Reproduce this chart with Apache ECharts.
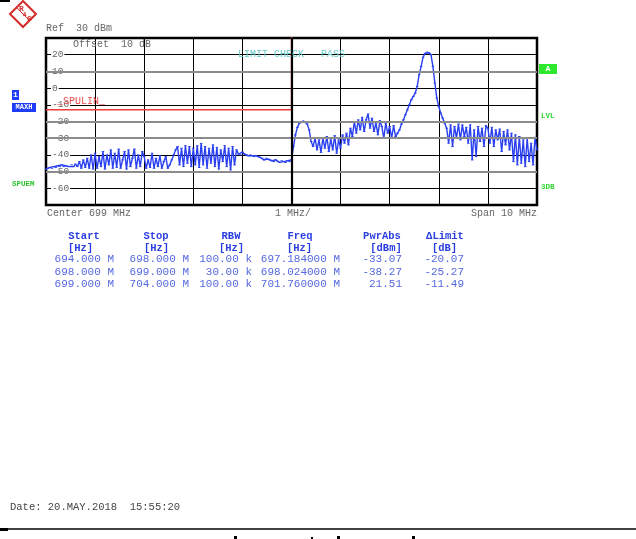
<!DOCTYPE html>
<html>
<head>
<meta charset="utf-8">
<script src="https://cdn.jsdelivr.net/npm/echarts@6/dist/echarts.min.js"></script>
<style>
html,body{margin:0;padding:0;background:#fff;}
#chart{width:636px;height:539px;}
</style>
</head>
<body>
<div id="chart"></div>
<script>
// ---- sweep settings ----
const freqStart = 694;     // MHz
const freqStop = 704;      // MHz
const sweepStep = 0.04;    // MHz between trace points

// ---- trace values (dBm), one array per MHz division ----
const tr694 = [-48.5,-48,-47.5,-48,-47,-47.5,-46.5,-47,-46,-47,-46.5,-47,-47,-46,-47,-45.5,-47,-44,-48,-43,-47.5,-42,-48,-40,-48.5];
const tr695 = [-39,-48,-41,-47,-38,-48.5,-40,-46,-37,-48,-39,-47.5,-36.5,-48,-43,-38,-48.5,-37,-47,-42,-36.5,-48,-40,-47,-38];
const tr696 = [-41,-48,-43,-47.5,-39,-48,-42,-47,-40.5,-48,-44,-41,-48,-46,-43,-40,-37,-35,-46,-36,-47,-34.5,-45,-35,-47];
const tr697 = [-36,-46,-34.5,-47.5,-33.1,-46,-35,-48,-36,-45,-34,-47,-35.5,-48.5,-37,-44,-34.5,-47,-36,-49,-35,-46,-37,-39.5,-40];
const tr698 = [-38.3,-39.5,-40,-40.5,-40,-40.5,-41,-40.5,-41,-41.5,-42,-43,-42,-42.5,-43,-43.5,-44,-43,-44,-44.5,-43.5,-44,-44.5,-43.5,-44];
const tr699 = [-43,-35,-28,-23.5,-21,-20.3,-19.8,-20,-21.5,-25,-32,-35,-30,-37,-31,-38.5,-30,-36,-29,-38,-30.5,-37,-28.5,-39,-31];
const tr700 = [-36,-28,-33,-27,-34,-24,-29,-20,-27,-19,-25,-17.5,-26,-19,-15.5,-24,-18,-26,-21,-28,-19.5,-23,-30,-21,-27];
const tr701 = [-23,-30,-22.5,-29,-27,-25,-21.5,-19,-16,-13,-10,-7,-5,-3,1,8,13,18.5,20.8,21.51,21.2,20,13,3,-6];
const tr702 = [-11,-15,-18,-21,-24,-33,-22,-35,-23,-30,-21.5,-31,-22,-29,-23.5,-33,-22,-43,-25,-41,-23,-32,-24,-35,-22.5];
const tr703 = [-24,-33,-23.5,-35,-25,-31,-24.5,-38,-26,-34,-25,-37,-27,-44,-28,-46,-29,-45,-31,-47,-30,-44,-33,-46,-29.5,-37];

// ---- limit line ----
const limitFreq  = [694, 699, 699, 704];
const limitLevel = [-13, -13, 33, 33];

// ---- axis ----
const yTicks = [-60,-50,-40,-30,-20,-10,0,10,20];
const grayGridLevels = [-50,-30,-20,10];
const centerFreq = 699;

// ---- texts ----
const refText = 'Ref  30 dBm';
const offsetText = 'Offset  10 dB';
const limitCheckText = 'LIMIT CHECK';
const passText = 'PASS';
const limitName = '_SPULIN_';
const centerText = 'Center 699 MHz';
const divText = '1 MHz/';
const spanText = 'Span 10 MHz';
const dateText = 'Date: 20.MAY.2018  15:55:20';

// ---- result table ----
const tableHeaders = ['Start','Stop','RBW','Freq','PwrAbs','\u0394Limit'];
const tableUnits   = ['[Hz]','[Hz]','[Hz]','[Hz]','[dBm]','[dB]'];
const rangeStart = ['694.000 M','698.000 M','699.000 M'];
const rangeStop  = ['698.000 M','699.000 M','704.000 M'];
const rangeRbw   = ['100.00 k','30.00 k','100.00 k'];
const peakFreq   = ['697.184000 M','698.024000 M','701.760000 M'];
const pwrAbs     = ['-33.07','-38.27','21.51'];
const deltaLimit = ['-20.07','-25.27','-11.49'];

// build trace
const traceValues = [].concat(tr694,tr695,tr696,tr697,tr698,tr699,tr700,tr701,tr702,tr703);
const traceData = traceValues.map((v,i) => [+(freqStart + i*sweepStep).toFixed(3), v]);
const limitData = limitFreq.map((f,i) => [f, limitLevel[i]]);

const mono = '"Liberation Mono","DejaVu Sans Mono",monospace';
const gridColors = [];
for (let v = -70; v <= 30; v += 10) gridColors.push(grayGridLevels.includes(v) ? 'transparent' : '#000');

const graphics = [];
function txt(x, y, s, opts) {
  opts = opts || {};
  graphics.push({
    type: 'text', x: x, y: y, z: 100,
    style: {
      text: s, fill: opts.fill || '#666',
      font: (opts.weight || 'normal') + ' ' + (opts.size || 10) + 'px ' + mono,
      textAlign: opts.align || 'left', textVerticalAlign: 'middle',
      verticalAlign: 'middle'
    }
  });
}
function box(x, y, w, h, fill) {
  graphics.push({type:'rect', z: 99, shape:{x:x,y:y,width:w,height:h}, style:{fill:fill}});
}

// corner mark and logo
box(0, 0, 10, 2, '#000');
graphics.push({type:'polygon', z:100, shape:{points:[[23,1],[36,14],[23,27],[10,14]]}, style:{fill:'#fff', stroke:'#d42a2a', lineWidth:2}});
graphics.push({type:'polyline', z:100, shape:{points:[[16.5,7.5],[29.5,20.5]]}, style:{stroke:'#d42a2a', lineWidth:1}});
txt(19, 9, 'R', {fill:'#d42a2a', weight:'bold', size:8});
txt(27, 19, 'S', {fill:'#d42a2a', weight:'bold', size:8});
txt(23, 14, '&', {fill:'#d42a2a', weight:'bold', size:6});

txt(46, 28, refText);
txt(73, 44, offsetText);
txt(238, 54, limitCheckText, {fill:'#6cc9c9'});
txt(321, 54, passText, {fill:'#6cc9c9'});
txt(57, 101, limitName, {fill:'#ea4a4a'});
txt(47, 213, centerText);
txt(275, 213, divText);
txt(537, 213, spanText, {align:'right'});

// left side tags
box(12, 90, 7, 10, '#1e3cf5');
txt(15.5, 95, '1', {fill:'#fff', weight:'bold', size:8, align:'center'});
box(12, 103, 24, 9, '#1e3cf5');
txt(24, 107.5, 'MAXH', {fill:'#fff', weight:'bold', size:7, align:'center'});
txt(12, 184, 'SPUEM', {fill:'#2fc42f', weight:'bold', size:7.5});
// right side tags
box(539, 64, 18, 10, '#2ee82e');
txt(548, 69, 'A', {fill:'#fff', weight:'bold', size:8, align:'center'});
txt(541, 116, 'LVL', {fill:'#2fd82f', weight:'bold', size:7.5});
txt(541, 187, '3DB', {fill:'#2fd82f', weight:'bold', size:7.5});

// table
const headerX = [84,156,231,300,382,445];
const unitX = [80.5,156.5,231.5,299.5,386,444.5];
const colRight = [114,189,252,340,402,464];
const rowY = [259,272,284];
const hdrColor = '#2a3ee0', rowColor = '#5568e0';
tableHeaders.forEach((h,i) => txt(headerX[i], 236, h, {fill:hdrColor, weight:'bold', size:10.5, align:'center'}));
tableUnits.forEach((h,i) => txt(unitX[i], 248, h, {fill:hdrColor, weight:'bold', size:10.5, align:'center'}));
const cols = [rangeStart, rangeStop, rangeRbw, peakFreq, pwrAbs, deltaLimit];
cols.forEach((col,ci) => col.forEach((s,ri) => txt(colRight[ci], rowY[ri], s, {fill:rowColor, size:11, align:'right'})));

// footer
txt(10, 507, dateText, {fill:'#444', size:10.5});
graphics.push({type:'line', z:100, shape:{x1:0,y1:529,x2:636,y2:529}, style:{stroke:'#000', lineWidth:1.5}});
box(0, 528, 8, 3, '#000');
box(234, 536, 3, 3, '#000');
box(311, 537, 2, 2, '#000');
box(337, 536, 3, 3, '#000');
box(412, 536, 3, 3, '#000');

const chart = echarts.init(document.getElementById('chart'), null, {renderer:'canvas'});
chart.setOption({
  animation: false,
  backgroundColor: '#fff',
  grid: {left:46, top:38, width:491, height:167, show:true, borderColor:'#000', borderWidth:2.5, backgroundColor:'transparent'},
  xAxis: {
    type:'value', min:freqStart, max:freqStop, interval:1,
    axisLine:{show:false}, axisTick:{show:false}, axisLabel:{show:false},
    splitLine:{show:true, lineStyle:{color:'#000', width:1}}
  },
  yAxis: {
    type:'value', min:-70, max:30, interval:10,
    axisLine:{show:false}, axisTick:{show:false},
    axisLabel:{
      inside:true, margin:5, color:'#666', fontFamily:mono, fontSize:9.5,
      backgroundColor:'#fff', padding:[0,1,0,1],
      formatter: v => yTicks.includes(v) ? String(v) : ''
    },
    splitLine:{show:true, lineStyle:{color:gridColors, width:1}}
  },
  series: [
    {
      name:'gridAccents', type:'line', data:[[freqStart,-70]], showSymbol:false, silent:true, z:1,
      lineStyle:{width:0},
      markLine:{
        silent:true, symbol:'none', label:{show:false}, animation:false,
        data: grayGridLevels.map(v => ({yAxis:v, lineStyle:{color:'#8c8c8c', width:2, type:'solid'}}))
          .concat([{xAxis:centerFreq, lineStyle:{color:'#000', width:2.2, type:'solid'}}])
      }
    },
    {
      name:'trace', type:'line', data:traceData, z:3,
      symbol:'rect', symbolSize:[2.5,1], showSymbol:true, showAllSymbol:true,
      itemStyle:{color:'#2a40f0'},
      lineStyle:{color:'#2a40f0', width:1.4},
      clip:true
    },
    {
      name:'limit', type:'line', data:limitData, z:4, showSymbol:false,
      lineStyle:{color:'#ee3a3a', width:1.5}, clip:true
    }
  ],
  graphic: graphics
});
</script>
</body>
</html>
